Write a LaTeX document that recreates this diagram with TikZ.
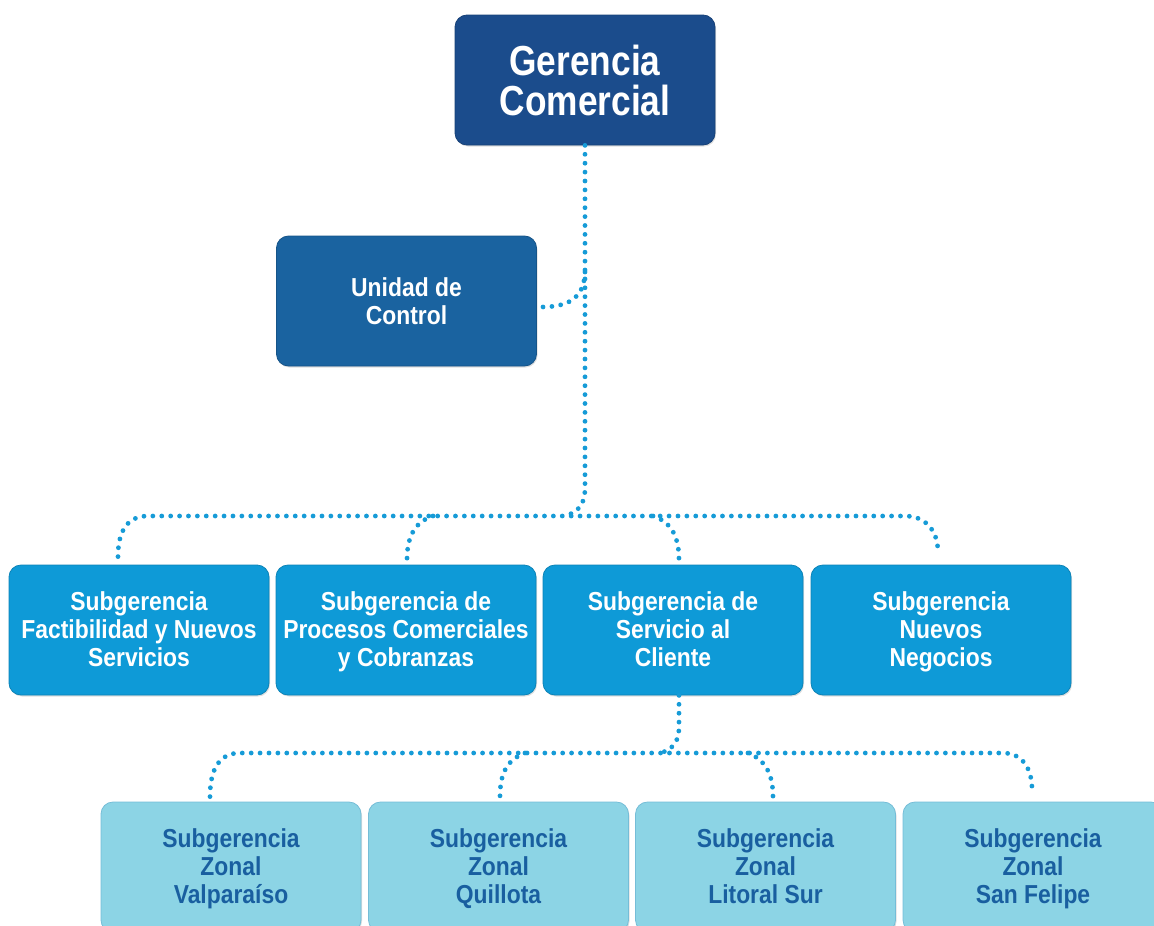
\documentclass[tikz,border=0pt]{standalone}
\usepackage{fontspec}
\newfontfamily\condb{Liberation Sans}[FakeStretch=0.84]
\newfontfamily\condc{Liberation Sans}[FakeStretch=0.88]
\usetikzlibrary{shadows}
\definecolor{cTop}{RGB}{27,76,140}
\definecolor{cUni}{RGB}{26,99,160}
\definecolor{cSub}{RGB}{14,154,215}
\definecolor{cZon}{RGB}{140,212,229}
\definecolor{cZonTxt}{RGB}{25,95,160}
\definecolor{cDot}{RGB}{22,155,215}
\newcommand\hzero{\rule{0pt}{42pt}}
\newcommand\dzero{\rule[-12pt]{0pt}{12pt}}
\newcommand\hone{\rule{0pt}{27.4pt}}
\newcommand\hrow{\rule{0pt}{25.4pt}}
\newcommand\drow{\rule[-8.4pt]{0pt}{8.4pt}}
\begin{document}
\begin{tikzpicture}[x=1pt,y=1pt,
  box/.style={rounded corners=12pt, minimum width=260pt, minimum height=130pt, inner sep=0pt, align=center,
    drop shadow={opacity=0.25, shadow xshift=1pt, shadow yshift=-1.5pt}},
  lvl0/.style={box, fill=cTop, draw=cTop!85!black, line width=0.8pt, text=white,
    font=\condb\bfseries\fontsize{42}{40}\selectfont},
  lvl1/.style={box, fill=cUni, draw=cUni!85!black, line width=0.8pt, text=white,
    font=\condc\bfseries\fontsize{26}{28}\selectfont},
  lvl2/.style={box, fill=cSub, draw=cSub!85!black, line width=0.8pt, text=white,
    font=\condc\bfseries\fontsize{26}{28}\selectfont},
  lvl3/.style={box, fill=cZon, draw=cZon!80!cZonTxt, line width=0.8pt, text=cZonTxt,
    font=\condc\bfseries\fontsize{26}{28}\selectfont},
  dots/.style={draw=cDot, line width=4.8pt, line cap=round, dash pattern=on 0pt off 8.9pt}
]
\useasboundingbox (0,0) rectangle (1154,-926);
\clip (0,0) rectangle (1154,-926);

% nodes
\node[lvl0] (gc) at (585,-80) {\hzero Gerencia\\Comercial\dzero};
\node[lvl1] (u) at (406.5,-301) {\hone Unidad de\\Control\drow};

\node[lvl2] (s1) at (139,-630) {\hrow Subgerencia\\Factibilidad y Nuevos\\Servicios\drow};
\node[lvl2] (s2) at (406,-630) {\hrow Subgerencia de\\Procesos Comerciales\\y Cobranzas\drow};
\node[lvl2] (s3) at (673,-630) {\hrow Subgerencia de\\Servicio al\\Cliente\drow};
\node[lvl2] (s4) at (941,-630) {\hrow Subgerencia\\Nuevos\\Negocios\drow};

\node[lvl3] (z1) at (231,-867) {\hrow Subgerencia\\Zonal\\Valparaíso\drow};
\node[lvl3] (z2) at (498.5,-867) {\hrow Subgerencia\\Zonal\\Quillota\drow};
\node[lvl3] (z3) at (765.5,-867) {\hrow Subgerencia\\Zonal\\Litoral Sur\drow};
\node[lvl3] (z4) at (1033,-867) {\hrow Subgerencia\\Zonal\\San Felipe\drow};

% junction coordinates
\coordinate (t1) at (585,-488);
\coordinate (j1) at (565,-516);
\coordinate (hl) at (148,-516);
\coordinate (hr) at (905,-516);
\coordinate (b2) at (433,-516);
\coordinate (b3) at (653,-516);
\coordinate (t2) at (679,-728);
\coordinate (j2) at (660,-753);
\coordinate (gl) at (240,-753);
\coordinate (gr) at (1003,-753);
\coordinate (c2) at (525,-753);
\coordinate (c3) at (748,-753);
\coordinate (ut) at (585,-272);

% connectors level 1
\draw[dots] (gc.south) -- (t1) .. controls (585,-505) and (578,-512) .. (j1);
\draw[dots] (ut) .. controls (584,-300) and (566,-307) .. ([shift={(4pt,-6pt)}]u.east);
\draw[dots] ([shift={(-21pt,8pt)}]s1.north) .. controls (118,-530) and (128,-516) .. (hl) -- (hr)
  .. controls (925,-516) and (938,-530) .. ([shift={(-3pt,12pt)}]s4.north);
\draw[dots] (b2) .. controls (414,-522) and (407,-538) .. ([shift={(1pt,5pt)}]s2.north);
\draw[dots] (b3) .. controls (672,-522) and (679,-538) .. ([shift={(6pt,5pt)}]s3.north);

% connectors level 2
\draw[dots] ([xshift=6pt]s3.south) -- (t2) .. controls (679,-742) and (672,-750) .. (j2);
\draw[dots] ([shift={(-21pt,5pt)}]z1.north) .. controls (210,-768) and (220,-753) .. (gl) -- (gr)
  .. controls (1022,-753) and (1032,-768) .. ([shift={(-1pt,12pt)}]z4.north);
\draw[dots] (c2) .. controls (506,-760) and (500,-775) .. ([shift={(1.5pt,5pt)}]z2.north);
\draw[dots] (c3) .. controls (766,-760) and (773,-775) .. ([shift={(7.5pt,5pt)}]z3.north);
\end{tikzpicture}
\end{document}
